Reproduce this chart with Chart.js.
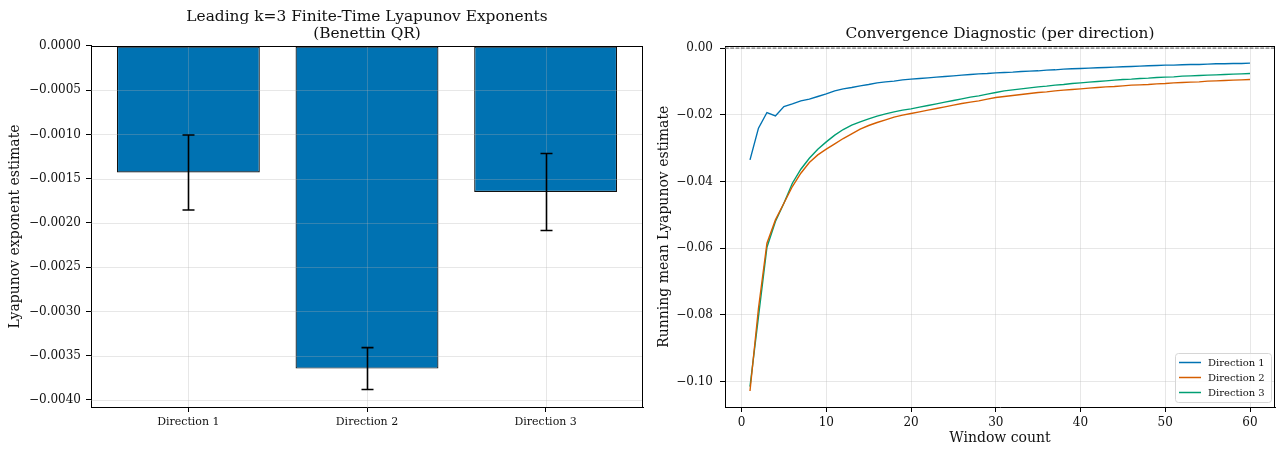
<!DOCTYPE html>
<html><head><meta charset="utf-8">
<script src="https://cdn.jsdelivr.net/npm/chart.js@4.4.1/dist/chart.umd.min.js"></script>
<style>
html,body{margin:0;padding:0;background:#fff;}
#wrap{position:relative;width:1280px;height:449px;overflow:hidden;background:#fff;}
#c1{position:absolute;left:0;top:0;}
#c2{position:absolute;left:650px;top:0;}
</style></head><body>
<div id="wrap"><canvas id="c1" width="650" height="449"></canvas><canvas id="c2" width="630" height="449"></canvas></div>
<script>
// ---------- data ----------
const directions = ['Direction 1', 'Direction 2', 'Direction 3'];
const directionIndex = [0, 1, 2];
const exponentMeans = [-0.00143, -0.003646, -0.00165];
const exponentErrors = [0.000424, 0.000237, 0.000435];

const windowCounts = [1,2,3,4,5,6,7,8,9,10,11,12,13,14,15,16,17,18,19,20,21,22,23,24,25,26,27,28,29,30,
  31,32,33,34,35,36,37,38,39,40,41,42,43,44,45,46,47,48,49,50,51,52,53,54,55,56,57,58,59,60];
const runningDir1 = [-0.0335,-0.0240,-0.0193,-0.0203,-0.0175,-0.0167,-0.0158,-0.0153,-0.0145,-0.0137,
  -0.0128,-0.0122,-0.0118,-0.0113,-0.0109,-0.0104,-0.0101,-0.0099,-0.0095,-0.0093,
  -0.0091,-0.0089,-0.0087,-0.0085,-0.0083,-0.0081,-0.0079,-0.0077,-0.0076,-0.0074,
  -0.0073,-0.0072,-0.0070,-0.0069,-0.0068,-0.0066,-0.0065,-0.0063,-0.0062,-0.0061,
  -0.0060,-0.0059,-0.0058,-0.0057,-0.0056,-0.0055,-0.0054,-0.0053,-0.0052,-0.0051,
  -0.0051,-0.0050,-0.0049,-0.0049,-0.0048,-0.0047,-0.0047,-0.0046,-0.0046,-0.0045];
const runningDir2 = [-0.1028,-0.0780,-0.0585,-0.0515,-0.0465,-0.0415,-0.0375,-0.0343,-0.0320,-0.0303,
  -0.0287,-0.0271,-0.0257,-0.0243,-0.0232,-0.0223,-0.0215,-0.0207,-0.0201,-0.0196,
  -0.0191,-0.0186,-0.0181,-0.0176,-0.0171,-0.0166,-0.0162,-0.0158,-0.0153,-0.0148,
  -0.0145,-0.0142,-0.0139,-0.0136,-0.0133,-0.0131,-0.0128,-0.0126,-0.0124,-0.0122,
  -0.0120,-0.0118,-0.0116,-0.0115,-0.0113,-0.0111,-0.0110,-0.0109,-0.0107,-0.0106,
  -0.0104,-0.0103,-0.0102,-0.0101,-0.0099,-0.0098,-0.0097,-0.0096,-0.0095,-0.0094];
const runningDir3 = [-0.1015,-0.0805,-0.0597,-0.0520,-0.0465,-0.0405,-0.0363,-0.0330,-0.0303,-0.0281,
  -0.0261,-0.0244,-0.0231,-0.0221,-0.0212,-0.0204,-0.0197,-0.0191,-0.0186,-0.0182,
  -0.0177,-0.0172,-0.0167,-0.0162,-0.0157,-0.0152,-0.0147,-0.0143,-0.0138,-0.0133,
  -0.0128,-0.0125,-0.0122,-0.0119,-0.0116,-0.0114,-0.0111,-0.0109,-0.0106,-0.0104,
  -0.0102,-0.0100,-0.0098,-0.0096,-0.0094,-0.0093,-0.0091,-0.0090,-0.0088,-0.0087,
  -0.0086,-0.0084,-0.0083,-0.0082,-0.0081,-0.0080,-0.0079,-0.0078,-0.0077,-0.0076];
const seriesLabels = ['Direction 1', 'Direction 2', 'Direction 3'];
const seriesColors = ['#0072B2', '#D55E00', '#009E73'];

// ---------- style ----------
const FONT = "'DejaVu Serif', serif";
Chart.defaults.font.family = FONT;
Chart.defaults.color = '#111';
const GRID = 'rgba(176,176,176,0.3)';
const fmt = (v, d) => (Math.abs(v) < 1e-12 ? (0).toFixed(d) : (v < 0 ? '\u2212' + Math.abs(v).toFixed(d) : v.toFixed(d)));

// top and right spines (bottom/left come from the axes' borders)
const boxPlugin = {
  id: 'box',
  afterDraw(chart) {
    const {ctx, chartArea: a} = chart;
    const l = Math.round(a.left), t = Math.round(a.top), r = Math.round(a.right), b = Math.round(a.bottom);
    ctx.save();
    ctx.strokeStyle = '#000';
    ctx.lineWidth = 1;
    ctx.beginPath();
    ctx.moveTo(l, t + 0.5); ctx.lineTo(r, t + 0.5);
    ctx.moveTo(r - 0.5, t); ctx.lineTo(r - 0.5, b);
    ctx.stroke();
    ctx.restore();
  }
};

// grid drawn over the bars (as in the reference), from the library's scales
const overGridPlugin = {
  id: 'overGrid',
  afterDatasetsDraw(chart) {
    const {ctx, chartArea: a} = chart;
    const xs = chart.scales.x, ys = chart.scales.y;
    ctx.save();
    ctx.strokeStyle = GRID;
    ctx.lineWidth = 1;
    ctx.beginPath();
    xs.ticks.forEach((t) => {
      const x = Math.round(xs.getPixelForValue(t.value)) + 0.5;
      ctx.moveTo(x, a.top); ctx.lineTo(x, a.bottom);
    });
    ys.ticks.forEach((t) => {
      const y = Math.round(ys.getPixelForValue(t.value)) + 0.5;
      ctx.moveTo(a.left, y); ctx.lineTo(a.right, y);
    });
    ctx.stroke();
    ctx.restore();
  }
};

const errorBarPlugin = {
  id: 'errbars',
  afterDraw(chart) {
    const {ctx} = chart;
    const xs = chart.scales.x, ys = chart.scales.y;
    ctx.save();
    ctx.strokeStyle = '#000';
    ctx.lineWidth = 1.6;
    directionIndex.forEach((i) => {
      const x = Math.round(xs.getPixelForValue(i)) + 0.5;
      const y1 = ys.getPixelForValue(exponentMeans[i] + exponentErrors[i]);
      const y2 = ys.getPixelForValue(exponentMeans[i] - exponentErrors[i]);
      ctx.beginPath();
      ctx.moveTo(x, y1); ctx.lineTo(x, y2);
      ctx.moveTo(x - 6, y1); ctx.lineTo(x + 6, y1);
      ctx.moveTo(x - 6, y2); ctx.lineTo(x + 6, y2);
      ctx.stroke();
    });
    ctx.restore();
  }
};

const zeroLinePlugin = {
  id: 'zeroline',
  beforeDatasetsDraw(chart) {
    const {ctx, chartArea: a} = chart;
    const y = chart.scales.y.getPixelForValue(0);
    ctx.save();
    ctx.strokeStyle = '#808080';
    ctx.lineWidth = 1.1;
    ctx.setLineDash([3.7, 1.6]);
    ctx.beginPath();
    ctx.moveTo(a.left, y); ctx.lineTo(a.right, y);
    ctx.stroke();
    ctx.restore();
  }
};

const innerLegendPlugin = {
  id: 'innerLegend',
  afterDraw(chart) {
    const {ctx, chartArea: a} = chart;
    const w = 96, h = 49;
    const x0 = Math.round(a.right - 4 - w), y0 = Math.round(a.bottom - 5 - h);
    ctx.save();
    ctx.beginPath();
    if (ctx.roundRect) ctx.roundRect(x0 + 0.5, y0 + 0.5, w, h, 3); else ctx.rect(x0 + 0.5, y0 + 0.5, w, h);
    ctx.fillStyle = 'rgba(255,255,255,0.8)';
    ctx.fill();
    ctx.strokeStyle = '#d6d6d6';
    ctx.lineWidth = 1;
    ctx.stroke();
    ctx.font = '10px ' + FONT;
    ctx.textBaseline = 'middle';
    ctx.textAlign = 'left';
    chart.data.datasets.forEach((ds, i) => {
      const yy = y0 + 9.5 + i * 15;
      ctx.strokeStyle = ds.borderColor;
      ctx.lineWidth = 1.5;
      ctx.beginPath();
      ctx.moveTo(x0 + 4, yy); ctx.lineTo(x0 + 26, yy);
      ctx.stroke();
      ctx.fillStyle = '#111';
      ctx.fillText(ds.label, x0 + 33, yy + 0.5);
    });
    ctx.restore();
  }
};

// ---------- left: bar chart ----------
new Chart(document.getElementById('c1'), {
  type: 'bar',
  data: {
    datasets: [{
      data: directionIndex.map((i) => ({x: i, y: exponentMeans[i]})),
      backgroundColor: '#0072B2',
      borderColor: '#111',
      borderWidth: 1.2,
      borderSkipped: false,
      barPercentage: 0.8,
      categoryPercentage: 1.0
    }]
  },
  options: {
    responsive: false,
    animation: false,
    devicePixelRatio: 1,
    layout: {padding: {left: 0, right: 7, top: 0, bottom: 0}},
    plugins: {
      legend: {display: false},
      tooltip: {enabled: false},
      title: {
        display: true,
        fullSize: false,
        text: ['Leading k=3 Finite-Time Lyapunov Exponents', '(Benettin QR)'],
        font: {size: 15.4, weight: 'normal', lineHeight: 1.07},
        color: '#111',
        padding: {top: 9, bottom: 4}
      }
    },
    scales: {
      x: {
        type: 'linear',
        min: -0.545, max: 2.545,
        offset: false,
        grid: {offset: false, drawOnChartArea: false, color: GRID, tickColor: '#000', tickLength: 5, tickWidth: 1},
        border: {color: '#000', width: 1},
        ticks: {stepSize: 1, includeBounds: false, autoSkip: false, maxRotation: 0,
          font: {size: 11}, padding: 4,
          callback: (v) => (Number.isInteger(v) && directions[v] !== undefined ? directions[v] : '')},
        afterFit: (s) => { s.height = 42; }
      },
      y: {
        type: 'linear',
        min: -0.00408, max: 0,
        grid: {drawOnChartArea: false, color: GRID, tickColor: '#000', tickLength: 5, tickWidth: 1},
        border: {color: '#000', width: 1},
        ticks: {stepSize: 0.0005, includeBounds: false, font: {size: 12}, padding: 5,
          callback: (v) => fmt(v, 4)},
        title: {display: true, text: 'Lyapunov exponent estimate', font: {size: 14}, padding: {top: 6.6, bottom: 0}, color: '#111'},
        afterFit: (s) => { s.width = 91; }
      }
    }
  },
  plugins: [overGridPlugin, errorBarPlugin, boxPlugin]
});

// ---------- right: convergence lines ----------
const lineSeries = [runningDir1, runningDir2, runningDir3];
new Chart(document.getElementById('c2'), {
  type: 'line',
  data: {
    datasets: lineSeries.map((vals, k) => ({
      label: seriesLabels[k],
      data: windowCounts.map((w, i) => ({x: w, y: vals[i]})),
      borderColor: seriesColors[k],
      backgroundColor: seriesColors[k],
      borderWidth: 1.4,
      pointRadius: 0,
      tension: 0,
      fill: false
    }))
  },
  options: {
    responsive: false,
    animation: false,
    devicePixelRatio: 1,
    layout: {padding: {left: 0, right: 5, top: 0, bottom: 0}},
    plugins: {
      legend: {display: false},
      tooltip: {enabled: false},
      title: {
        display: true,
        fullSize: false,
        text: 'Convergence Diagnostic (per direction)',
        font: {size: 15.4, weight: 'normal', lineHeight: 1.07},
        color: '#111',
        padding: {top: 26, bottom: 4}
      }
    },
    scales: {
      x: {
        type: 'linear',
        min: -1.95, max: 62.95,
        grid: {color: GRID, tickColor: '#000', tickLength: 5, tickWidth: 1},
        border: {color: '#000', width: 1},
        ticks: {stepSize: 10, includeBounds: false, maxRotation: 0, font: {size: 12}, padding: 4,
          callback: (v) => String(v)},
        title: {display: true, text: 'Window count', font: {size: 14}, padding: {top: 0, bottom: 2}, color: '#111'},
        afterFit: (s) => { s.height = 42; }
      },
      y: {
        type: 'linear',
        min: -0.1076, max: 0.0005,
        grid: {color: GRID, tickColor: '#000', tickLength: 5, tickWidth: 1},
        border: {color: '#000', width: 1},
        ticks: {stepSize: 0.02, includeBounds: false, font: {size: 12}, padding: 7,
          callback: (v) => fmt(v, 2)},
        title: {display: true, text: 'Running mean Lyapunov estimate', font: {size: 14}, padding: {top: 5.6, bottom: 0}, color: '#111'},
        afterFit: (s) => { s.width = 75; }
      }
    }
  },
  plugins: [zeroLinePlugin, innerLegendPlugin, boxPlugin]
});
</script>
</body></html>
